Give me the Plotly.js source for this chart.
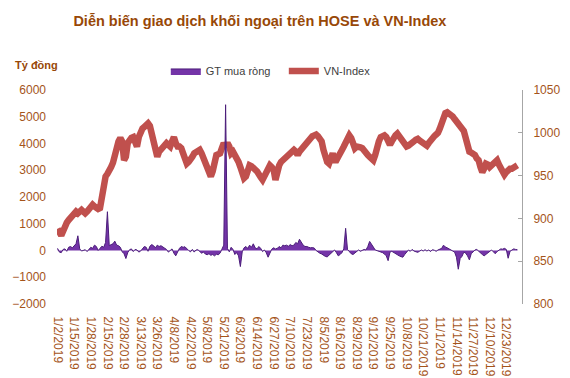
<!DOCTYPE html>
<html><head><meta charset="utf-8">
<script src="https://cdn.plot.ly/plotly-3.0.1.min.js"></script>
<style>html,body{margin:0;padding:0;background:#fff}#chart{width:570px;height:378px}</style>
</head><body><div id="chart"></div>
<script>
const dates = [
'1/2/2019','1/3/2019','1/4/2019','1/7/2019','1/8/2019','1/9/2019','1/10/2019','1/11/2019','1/14/2019','1/15/2019',
'1/16/2019','1/17/2019','1/18/2019','1/21/2019','1/22/2019','1/23/2019','1/24/2019','1/25/2019','1/28/2019','1/29/2019',
'1/30/2019','1/31/2019','2/1/2019','2/11/2019','2/12/2019','2/13/2019','2/14/2019','2/15/2019','2/18/2019','2/19/2019',
'2/20/2019','2/21/2019','2/22/2019','2/25/2019','2/26/2019','2/27/2019','2/28/2019','3/1/2019','3/4/2019','3/5/2019',
'3/6/2019','3/7/2019','3/8/2019','3/11/2019','3/12/2019','3/13/2019','3/14/2019','3/15/2019','3/18/2019','3/19/2019',
'3/20/2019','3/21/2019','3/22/2019','3/25/2019','3/26/2019','3/27/2019','3/28/2019','3/29/2019','4/1/2019','4/2/2019',
'4/3/2019','4/4/2019','4/5/2019','4/8/2019','4/9/2019','4/10/2019','4/11/2019','4/12/2019','4/16/2019','4/17/2019',
'4/18/2019','4/19/2019','4/22/2019','4/23/2019','4/24/2019','4/25/2019','4/26/2019','5/2/2019','5/3/2019','5/6/2019',
'5/7/2019','5/8/2019','5/9/2019','5/10/2019','5/13/2019','5/14/2019','5/15/2019','5/16/2019','5/17/2019','5/20/2019',
'5/21/2019','5/22/2019','5/23/2019','5/24/2019','5/27/2019','5/28/2019','5/29/2019','5/30/2019','5/31/2019','6/3/2019',
'6/4/2019','6/5/2019','6/6/2019','6/7/2019','6/10/2019','6/11/2019','6/12/2019','6/13/2019','6/14/2019','6/17/2019',
'6/18/2019','6/19/2019','6/20/2019','6/21/2019','6/24/2019','6/25/2019','6/26/2019','6/27/2019','6/28/2019','7/1/2019',
'7/2/2019','7/3/2019','7/4/2019','7/5/2019','7/8/2019','7/9/2019','7/10/2019','7/11/2019','7/12/2019','7/15/2019',
'7/16/2019','7/17/2019','7/18/2019','7/19/2019','7/22/2019','7/23/2019','7/24/2019','7/25/2019','7/26/2019','7/29/2019',
'7/30/2019','7/31/2019','8/1/2019','8/2/2019','8/5/2019','8/6/2019','8/7/2019','8/8/2019','8/9/2019','8/12/2019',
'8/13/2019','8/14/2019','8/15/2019','8/16/2019','8/19/2019','8/20/2019','8/21/2019','8/22/2019','8/23/2019','8/26/2019',
'8/27/2019','8/28/2019','8/29/2019','8/30/2019','9/3/2019','9/4/2019','9/5/2019','9/6/2019','9/9/2019','9/10/2019',
'9/11/2019','9/12/2019','9/13/2019','9/16/2019','9/17/2019','9/18/2019','9/19/2019','9/20/2019','9/23/2019','9/24/2019',
'9/25/2019','9/26/2019','9/27/2019','9/30/2019','10/1/2019','10/2/2019','10/3/2019','10/4/2019','10/7/2019','10/8/2019',
'10/9/2019','10/10/2019','10/11/2019','10/14/2019','10/15/2019','10/16/2019','10/17/2019','10/18/2019','10/21/2019','10/22/2019',
'10/23/2019','10/24/2019','10/25/2019','10/28/2019','10/29/2019','10/30/2019','10/31/2019','11/1/2019','11/4/2019','11/5/2019',
'11/6/2019','11/7/2019','11/8/2019','11/11/2019','11/12/2019','11/13/2019','11/14/2019','11/15/2019','11/18/2019','11/19/2019',
'11/20/2019','11/21/2019','11/22/2019','11/25/2019','11/26/2019','11/27/2019','11/28/2019','11/29/2019','12/2/2019','12/3/2019',
'12/4/2019','12/5/2019','12/6/2019','12/9/2019','12/10/2019','12/11/2019','12/12/2019','12/13/2019','12/16/2019','12/17/2019',
'12/18/2019','12/19/2019','12/20/2019','12/23/2019','12/24/2019','12/25/2019','12/26/2019','12/27/2019','12/30/2019','12/31/2019'
];
const tickLabels = ['1/2/2019','1/15/2019','1/28/2019','2/15/2019','2/28/2019','3/13/2019','3/26/2019','4/8/2019','4/22/2019','5/8/2019',
'5/21/2019','6/3/2019','6/14/2019','6/27/2019','7/10/2019','7/23/2019','8/5/2019','8/16/2019','8/29/2019','9/12/2019',
'9/25/2019','10/8/2019','10/21/2019','11/1/2019','11/14/2019','11/27/2019','12/10/2019','12/23/2019'];
const netBuy = [
80,-60,-80,40,60,-30,120,150,100,180,
250,550,60,-20,10,30,-40,60,120,80,
200,150,0,80,160,120,300,1450,180,220,
250,350,200,180,120,-50,-120,-300,-80,30,
60,-40,40,20,-60,-20,80,150,120,-30,
160,220,180,100,200,150,180,140,80,40,
-60,20,60,-100,-200,-60,80,150,120,140,
60,0,-50,40,-60,20,30,-40,-100,-60,
-130,-160,-120,-180,-150,-200,-140,-160,-100,50,
200,5450,80,-50,120,40,-150,-80,-200,-600,
-50,100,150,80,200,120,250,100,60,150,
80,-40,20,-80,-250,-100,50,100,60,80,
150,100,200,180,200,160,220,180,200,300,
250,420,300,200,150,150,120,100,110,90,
0,-60,-100,-130,-180,-220,-240,-180,-100,-40,
20,-80,-200,-150,-80,60,830,40,-60,-120,
-150,-100,-40,20,-30,10,40,20,150,340,
250,130,20,0,-30,-50,-80,-130,-200,-380,
-60,-30,-80,-110,-160,-200,-230,-250,-150,-50,
20,-30,40,-20,-50,-70,-30,20,-20,30,
-20,20,-40,30,10,-30,20,40,80,200,
130,100,60,20,-20,-60,-250,-700,-300,-220,
-60,-100,-200,-350,-120,-30,20,40,-30,-100,
-150,-200,-150,-100,-40,20,-50,-120,-40,30,
60,50,80,40,-290,-30,30,60,40,30
];
const vnIndex = [
888,884,880,885,892,895,898,900,904,906,
908,906,908,910,908,906,908,910,913,916,
914,912,911,912,928,940,949,952,955,960,
965,976,986,990,994,990,968,972,988,992,
994,995,990,984,995,1001,1005,1007,1009,1011,
1008,1000,990,978,972,978,980,984,986,988,
986,984,990,995,988,984,984,982,976,970,
964,966,968,972,976,978,979,980,976,970,
962,957,952,949,955,965,974,975,976,982,
988,984,988,984,976,978,975,972,966,960,
950,947,949,955,962,961,960,957,955,950,
948,945,950,955,960,962,960,957,945,958,
962,966,968,970,972,974,976,978,980,978,
974,978,981,984,986,990,993,994,996,997,
998,996,994,990,980,972,966,964,974,976,
968,968,972,978,980,984,990,996,997,994,
986,982,984,984,983,982,978,977,974,972,
970,968,974,984,990,995,997,997,995,990,
986,990,995,997,999,996,992,988,985,984,
985,986,988,990,992,993,991,990,988,986,
985,988,992,995,996,998,1000,1005,1010,1019,
1023,1024,1023,1021,1019,1016,1013,1010,1009,1005,
1002,994,985,978,977,976,974,970,968,960,
954,958,964,963,960,962,964,966,968,963,
958,953,951,954,957,958,958,959,961,962
];

const brown = '#a4541a';
const titleBrown = '#984807';
const baseFont = 'Liberation Sans, Arial, sans-serif';

const traces = [
  {type:'scatter', mode:'lines', name:'GT mua ròng', x:dates, y:netBuy, yaxis:'y2',
   fill:'tozeroy', fillcolor:'#7434A8', line:{color:'#4B1D7A', width:1}},
  {type:'scatter', mode:'lines', name:'VN-Index', x:dates, y:vnIndex, yaxis:'y',
   line:{color:'#C0504D', width:6.5}}
];

const layout = {
  width:570, height:378,
  margin:{l:57, r:48, t:90, b:74},
  paper_bgcolor:'#ffffff', plot_bgcolor:'#ffffff',
  font:{family:baseFont, size:12, color:brown},
  title:{text:'Diễn biến giao dịch khối ngoại trên HOSE và VN-Index',
    font:{family:baseFont, size:14.5, weight:700, color:titleBrown},
    x:0.456, xanchor:'center', xref:'container', y:0.945, yanchor:'middle', yref:'container'},
  showlegend:true,
  legend:{orientation:'h', x:0.234, xanchor:'left', y:1.089, yanchor:'middle', entrywidth:73,
    font:{family:baseFont, size:11, color:'#404040'}, bgcolor:'rgba(0,0,0,0)'},
  xaxis:{type:'category', range:[-0.3, 251.5], tickmode:'array', tickvals:tickLabels, ticktext:tickLabels,
    tickangle:90, ticks:'outside', ticklen:9, tickcolor:'rgba(0,0,0,0)', showline:false, showgrid:false,
    zeroline:false, tickfont:{family:baseFont, size:12, color:brown}},
  yaxis:{side:'right', range:[800,1050], tickmode:'linear', tick0:800, dtick:50, showgrid:false, zeroline:false,
    showline:true, linecolor:'#A6A6A6', linewidth:1, ticks:'inside', ticklen:4, tickcolor:'#A6A6A6',
    ticklabelstandoff:8, tickfont:{family:baseFont, size:12, color:brown}},
  yaxis2:{overlaying:'y', side:'left', range:[-2000,6000], tickmode:'linear', tick0:-2000, dtick:1000,
    showgrid:false, zeroline:false, showline:false, ticks:'', ticklabelstandoff:10,
    tickfont:{family:baseFont, size:12, color:brown}},
  annotations:[{text:'<b>Tỷ đồng</b>', xref:'paper', yref:'paper', x:-0.095, y:1.115, xanchor:'left', yanchor:'middle',
    showarrow:false, font:{family:baseFont, size:11, color:titleBrown}}]
};

Plotly.newPlot('chart', traces, layout, {displayModeBar:false, staticPlot:true});
</script>
</body></html>
